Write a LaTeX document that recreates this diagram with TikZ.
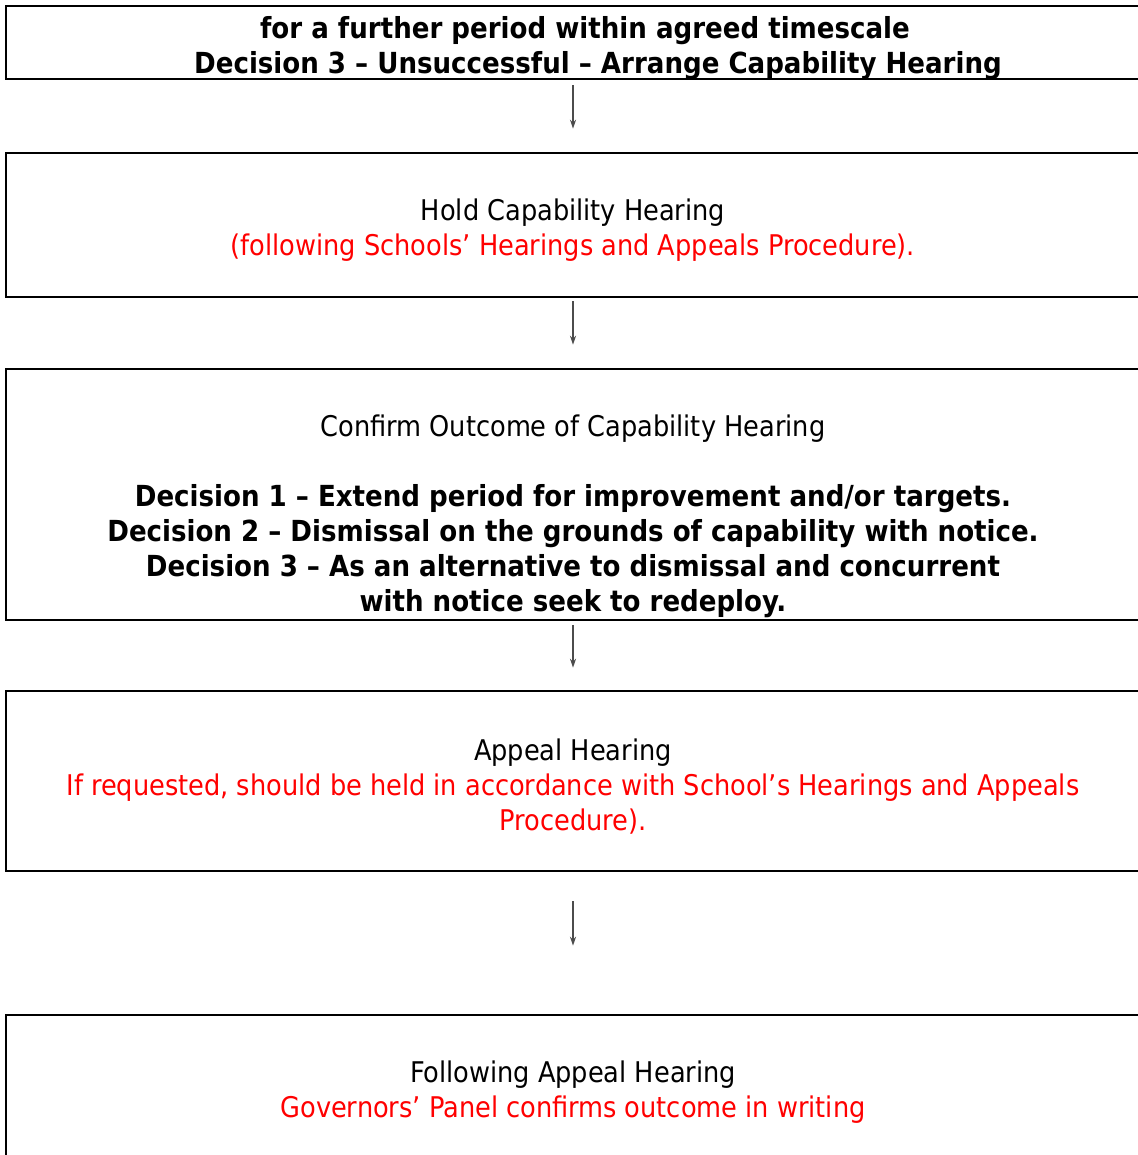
\documentclass[tikz,border=0pt]{standalone}
\usepackage{fontspec}
\setmainfont{DejaVu Sans Condensed}
\usepackage{tikz}
\usetikzlibrary{arrows.meta}

\newcommand{\boldline}{\fontsize{14.5}{17.5}\selectfont\bfseries}

\tikzset{
  stagebox/.style={draw, line width=1.3pt, minimum width=567pt, inner sep=0pt},
  stagetext/.style={align=center, font=\fontsize{14.25}{17.5}\selectfont, inner sep=0pt},
  flowarrow/.style={draw=black!70, line width=0.7pt, -{Stealth[length=4.5pt,width=3pt,fill=black]}},
}

\begin{document}
\begin{tikzpicture}[x=0.5pt,y=-0.5pt]
        \useasboundingbox (0,0) rectangle (1137,1155);
        \node [stagebox, minimum height=36.5pt]  (arrange) at (573,42.5)  {};     %decision 3
        \node [stagebox, minimum height=72pt]    (hold)    at (573,225)   {};     %hearing
        \node [stagebox, minimum height=125.5pt] (confirm) at (573,494.5) {};     %outcome
        \node [stagebox, minimum height=90pt]    (appeal)  at (573,781)   {};     %appeal
        \node [stagebox, minimum height=74.5pt]  (after)   at (573,1089.5){};     %after appeal
        \node [stagetext] (arrangetxt) at (573,48)
              {\boldline\hspace*{12pt}for a further period within agreed timescale\\
               \boldline\hspace*{25pt}Decision 3 -- Unsuccessful -- Arrange Capability Hearing};
        \node [stagetext] (holdtxt) at (573,230)
              {Hold Capability Hearing\\
               \color{red}(following Schools’ Hearings and Appeals Procedure).};
        \node [stagetext] (confirmtxt) at (573,516.5)
              {Confirm Outcome of Capability Hearing\\[17.5pt]
               \boldline Decision 1 -- Extend period for improvement and/or targets.\\
               \boldline Decision 2 -- Dismissal on the grounds of capability with notice.\\
               \boldline Decision 3 -- As an alternative to dismissal and concurrent\\
               \boldline with notice seek to redeploy.};
        \node [stagetext] (appealtxt) at (573,786.5)
              {Appeal Hearing\\
               \color{red}If requested, should be held in accordance with School’s Hearings and Appeals\\
               \color{red}Procedure).};
        \node [stagetext] (aftertxt) at (573,1092)
              {Following Appeal Hearing\\
               \color{red}Governors’ Panel confirms outcome in writing};
        \draw [flowarrow, shorten <=2.5pt, shorten >=11.5pt] (arrange) -- (hold);   %
        \draw [flowarrow, shorten <=1.5pt, shorten >=11.5pt] (hold) -- (confirm);   %
        \draw [flowarrow, shorten <=2pt,   shorten >=11pt]   (confirm) -- (appeal); %
        \draw [flowarrow, shorten <=14.5pt,shorten >=34pt]   (appeal) -- (after);   %
\end{tikzpicture}
\end{document}
